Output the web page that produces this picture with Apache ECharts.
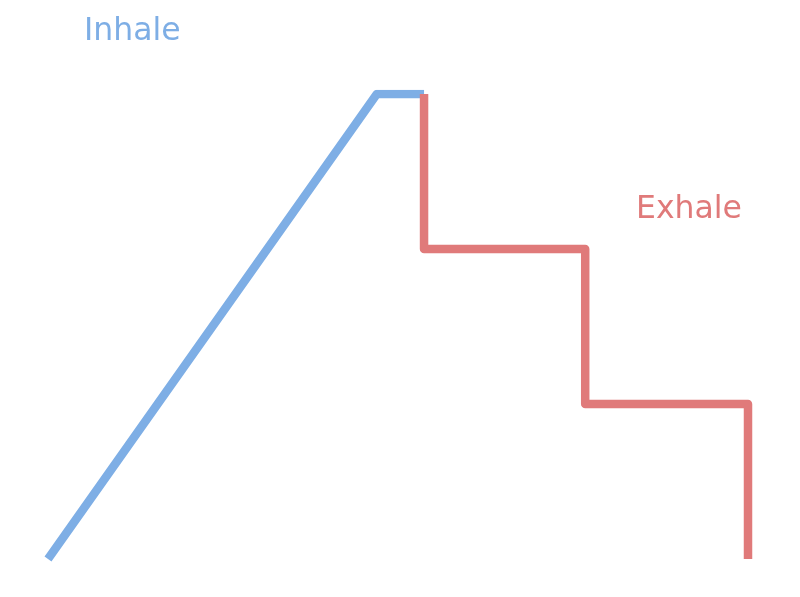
<!DOCTYPE html>
<html>
<head>
<meta charset="utf-8">
<script src="https://cdn.jsdelivr.net/npm/echarts@6/dist/echarts.min.js"></script>
<style>html,body{margin:0;padding:0;background:#fff;}#c{width:800px;height:597px;}</style>
</head>
<body>
<div id="c"></div>
<script>
const inhaleX = [0, 2.02, 2.31];
const inhaleY = [0, 3, 3];
const exhaleX = [2.31, 2.31, 3.3, 3.3, 4.3, 4.3];
const exhaleY = [3, 2, 2, 1, 1, 0];
const labels = ['Inhale', 'Exhale'];

const blue = '#7eaee5';
const red = '#e07a7a';

const chart = echarts.init(document.getElementById('c'), null, {renderer: 'canvas'});
chart.setOption({
  animation: false,
  backgroundColor: '#fff',
  grid: {left: 48, top: 94, width: 700, height: 465},
  xAxis: {type: 'value', min: 0, max: 4.3, show: false},
  yAxis: {type: 'value', min: 0, max: 3, show: false},
  graphic: [
    {type: 'text', left: 84, top: 16, style: {text: labels[0], fill: blue, font: '31.5px "DejaVu Sans"'}},
    {type: 'text', left: 636, top: 194, style: {text: labels[1], fill: red, font: '31.5px "DejaVu Sans"'}}
  ],
  series: [
    {type: 'line', symbol: 'none', data: inhaleX.map((x, i) => [x, inhaleY[i]]),
     lineStyle: {color: blue, width: 8.5, cap: 'butt', join: 'round'}},
    {type: 'line', symbol: 'none', data: exhaleX.map((x, i) => [x, exhaleY[i]]),
     lineStyle: {color: red, width: 8.5, cap: 'butt', join: 'round'}}
  ]
});
</script>
</body>
</html>
